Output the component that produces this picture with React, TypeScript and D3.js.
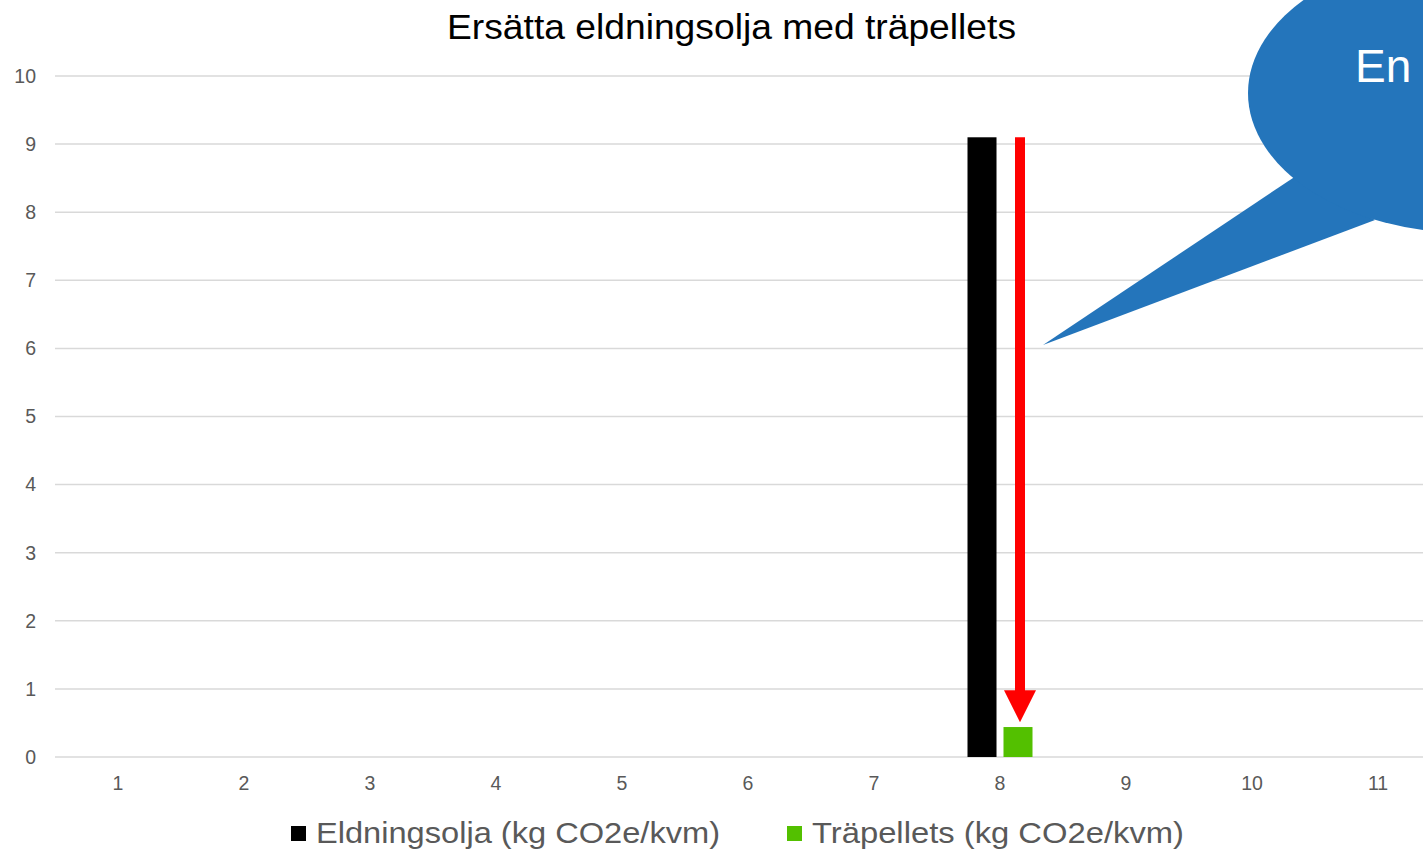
import React from "react";
import * as d3 from "d3";

const categories = ["1", "2", "3", "4", "5", "6", "7", "8", "9", "10", "11"];
const seriesNames = ["Eldningsolja (kg CO2e/kvm)", "Träpellets (kg CO2e/kvm)"];
const eldningsolja = [0, 0, 0, 0, 0, 0, 0, 9.1, 0, 0, 0];
const trapellets = [0, 0, 0, 0, 0, 0, 0, 0.44, 0, 0, 0];
const seriesColors = ["#000000", "#53C000"];
const yTicks = [0, 1, 2, 3, 4, 5, 6, 7, 8, 9, 10];
const title = "Ersätta eldningsolja med träpellets";
const calloutText = "En";

const W = 1423;
const H = 853;
const FONT = "'Liberation Sans', Arial, Helvetica, sans-serif";

export default function App() {
  const left = 55;
  const step = 126;
  const x = d3
    .scaleBand<string>()
    .domain(categories)
    .range([left, left + step * categories.length])
    .padding(0);
  const y = d3.scaleLinear().domain([0, 10]).range([757, 76]);
  const groupW = 65;
  const x1 = d3
    .scaleBand<string>()
    .domain(seriesNames)
    .range([(x.bandwidth() - groupW) / 2, (x.bandwidth() + groupW) / 2])
    .paddingInner(0.194);
  const seriesData = [eldningsolja, trapellets];

  // annotation arrow at category 8
  const cat = "8";
  const cx = (x(cat) as number) + x.bandwidth() / 2;
  const ax = cx + 20;
  const aTop = y(eldningsolja[7]);
  const aTip = y(0.51);
  const aHead = y(0.98);

  // callout
  const ex = 1468, ey = 93, erx = 220, ery = 140;
  const tipX = cx + 43;
  const tipY = y(6.05);
  const ellipse = `M${ex - erx},${ey} a${erx},${ery} 0 1,0 ${2 * erx},0 a${erx},${ery} 0 1,0 ${-2 * erx},0 Z`;
  const tail = `M1296,176 L${tipX},${tipY} L1375,220 Z`;

  const legendLen = [404, 372];

  return (
    <svg
      width={W}
      height={H}
      style={{ position: "absolute", left: 0, top: 0, background: "#fff" }}
      fontFamily={FONT}
    >
      <text
        x={447}
        y={39}
        fontSize={35}
        fill="#000"
        textLength={569}
        lengthAdjust="spacingAndGlyphs"
      >
        {title}
      </text>
      {yTicks.map((t) => (
        <g key={t}>
          <line x1={left} x2={W} y1={y(t)} y2={y(t)} stroke="#d9d9d9" strokeWidth={1.5} />
          <text x={36} y={y(t)} dy="0.35em" textAnchor="end" fontSize={19.5} fill="#595959">
            {t}
          </text>
        </g>
      ))}
      {categories.map((c) => (
        <text
          key={c}
          x={(x(c) as number) + x.bandwidth() / 2}
          y={783}
          dy="0.35em"
          textAnchor="middle"
          fontSize={19.5}
          fill="#595959"
        >
          {c}
        </text>
      ))}
      {seriesNames.map((s, si) =>
        categories.map((c, ci) => {
          const v = seriesData[si][ci];
          if (!v) return null;
          return (
            <rect
              key={s + c}
              x={(x(c) as number) + (x1(s) as number)}
              y={y(v)}
              width={x1.bandwidth()}
              height={y(0) - y(v)}
              fill={seriesColors[si]}
            />
          );
        })
      )}
      <line x1={ax} x2={ax} y1={aTop} y2={aHead + 1} stroke="#FF0000" strokeWidth={10} />
      <path d={`M${ax - 16},${aHead} L${ax + 16},${aHead} L${ax},${aTip} Z`} fill="#FF0000" />
      <path d={tail} fill="#2475BB" />
      <path d={ellipse} fill="#2475BB" />
      <text x={1355} y={82} fontSize={46} fill="#ffffff">
        {calloutText}
      </text>
      {seriesNames.map((s, i) => {
        const lx = i === 0 ? 291 : 787;
        return (
          <g key={s}>
            <rect x={lx} y={826} width={15} height={15} fill={seriesColors[i]} />
            <text
              x={lx + 25}
              y={843}
              fontSize={30}
              fill="#595959"
              textLength={legendLen[i]}
              lengthAdjust="spacingAndGlyphs"
            >
              {s}
            </text>
          </g>
        );
      })}
    </svg>
  );
}
